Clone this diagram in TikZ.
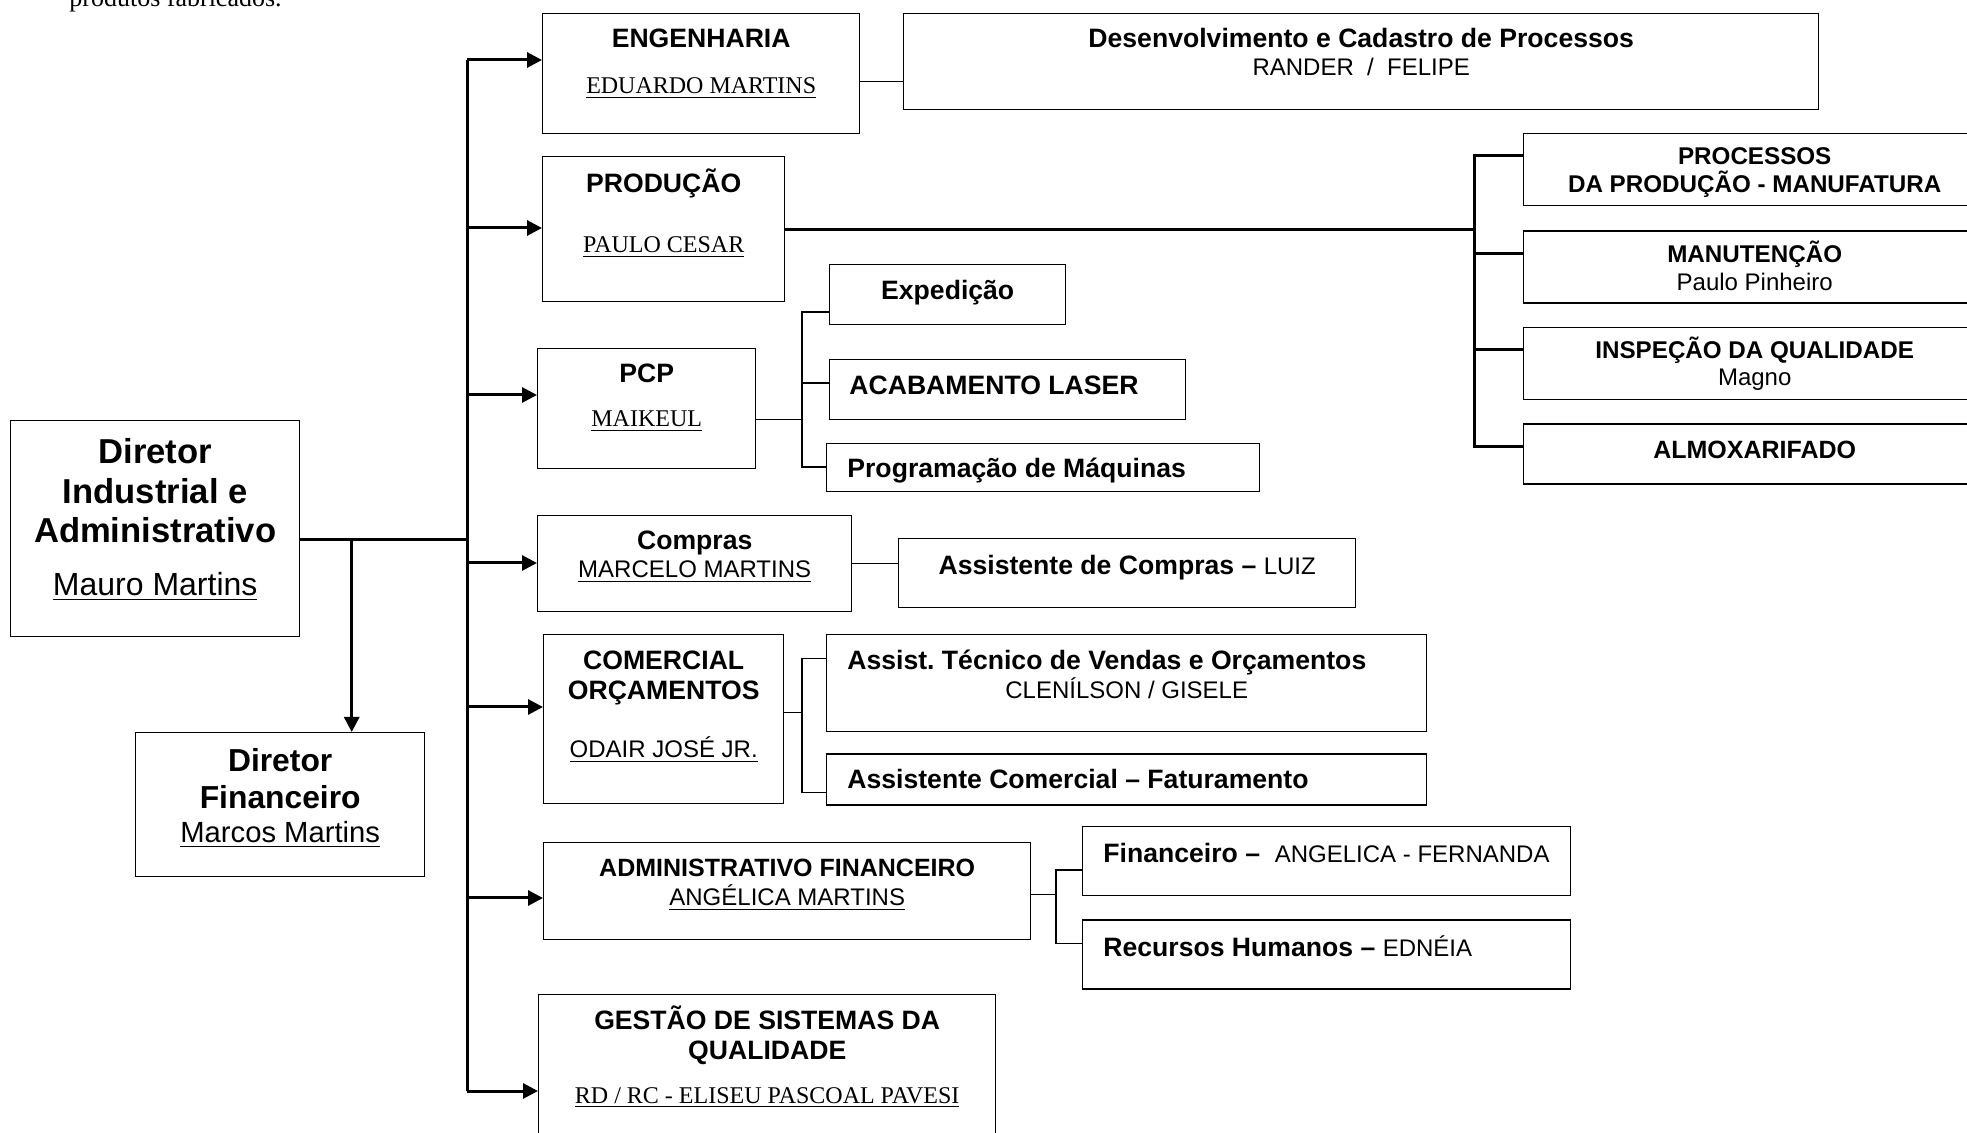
\documentclass[tikz,border=0pt]{standalone}
\usepackage{fontspec}
\setmainfont{Liberation Sans}
\newfontfamily\tnr{Liberation Serif}
\usetikzlibrary{arrows.meta,positioning}

\newcommand\bigfont{\fontsize{17.3}{19.75}\selectfont\bfseries}
\newcommand\midfont{\fontsize{15.9}{18.5}\selectfont\bfseries}
\newcommand\hdfont{\fontsize{13.3}{15}\selectfont\bfseries}
\newcommand\smfont{\fontsize{12.1}{14}\selectfont\bfseries}
\newcommand\nmfont{\fontsize{12}{14}\selectfont\mdseries}
\newcommand\tnfont{\tnr\fontsize{12}{14}\selectfont}

\tikzset{
  box/.style={draw, line width=0.7pt, anchor=north west, inner sep=0pt},
  lbl/.style={inner sep=0pt, align=center},
  heavy/.style={line width=1.5pt},
  arr/.style={heavy, -{Triangle[length=7.5pt,width=7.5pt]}},
  link/.style={line width=0.7pt},
}

\begin{document}
\begin{tikzpicture}[x=0.5pt,y=-0.5pt]
\useasboundingbox (0,0) rectangle (1967,1133);
\clip (0,0) rectangle (1967,1133);

\node[anchor=base west, inner sep=0pt, font=\tnr\fontsize{13}{15}\selectfont] (intro) at (69,7) {produtos fabricados.};

% directors
\node[box, minimum width=144.5pt, minimum height=108pt] (dirind) at (10,420) {};
\node[lbl, font=\bigfont, below=61.5pt of dirind.north, anchor=base] (dirindt) {Diretor\\Industrial e\\Administrativo};
\node[lbl, font=\fontsize{16}{18}\selectfont, below=88pt of dirind.north, anchor=base] (dirindn) {\underline{Mauro Martins}};

\node[box, minimum width=144.5pt, minimum height=72pt] (dirfin) at (135,732) {};
\node[lbl, font=\midfont, below=38.5pt of dirfin.north, anchor=base] (dirfint) {Diretor\\Financeiro};
\node[lbl, font=\fontsize{14.6}{17}\selectfont, below=55.5pt of dirfin.north, anchor=base] (dirfinn) {\underline{Marcos Martins}};

% engenharia
\node[box, minimum width=158.5pt, minimum height=60pt] (eng) at (542,13) {};
\node[lbl, font=\hdfont, below=17.5pt of eng.north, anchor=base] (engt) {ENGENHARIA};
\node[lbl, font=\tnfont, below=40.5pt of eng.north, anchor=base] (engn) {\underline{EDUARDO MARTINS}};

\node[box, minimum width=457.5pt, minimum height=48pt] (desenv) at (903,13) {};
\node[lbl, font=\hdfont, below=17.5pt of desenv.north, anchor=base] (desenvt) {Desenvolvimento e Cadastro de Processos};
\node[lbl, font=\nmfont, below=31.5pt of desenv.north, anchor=base] (desenvn) {RANDER \ / \ FELIPE};

% producao
\node[box, minimum width=121pt, minimum height=72.5pt] (prod) at (542,156) {};
\node[lbl, font=\hdfont, below=18.5pt of prod.north, anchor=base] (prodt) {PRODUÇÃO};
\node[lbl, font=\tnfont, below=48.5pt of prod.north, anchor=base] (prodn) {\underline{PAULO CESAR}};

\node[box, minimum width=231pt, minimum height=36pt] (proc) at (1523,133) {};
\node[box, minimum width=231pt, minimum height=36pt, below=12pt of proc] (manut) {};
\node[box, minimum width=231pt, minimum height=36pt, below=11.5pt of manut] (insp) {};
\node[box, minimum width=231pt, minimum height=30pt, below=11.5pt of insp] (almox) {};
\node[lbl, font=\smfont, below=30pt of proc.north, anchor=base] (proct) {PROCESSOS\\DA PRODUÇÃO - MANUFATURA};
\node[lbl, font=\smfont, below=16pt of manut.north, anchor=base] (manutt) {MANUTENÇÃO};
\node[lbl, font=\nmfont, below=30pt of manut.north, anchor=base] (manutn) {Paulo Pinheiro};
\node[lbl, font=\smfont, below=16pt of insp.north, anchor=base] (inspt) {INSPEÇÃO DA QUALIDADE};
\node[lbl, font=\nmfont, below=29.5pt of insp.north, anchor=base] (inspn) {Magno};
\node[lbl, font=\fontsize{12.5}{14}\selectfont\bfseries, below=17.5pt of almox.north, anchor=base] (almoxt) {ALMOXARIFADO};

% pcp
\node[box, minimum width=109pt, minimum height=60pt] (pcp) at (537,348) {};
\node[lbl, font=\hdfont, below=17.5pt of pcp.north, anchor=base] (pcpt) {PCP};
\node[lbl, font=\tnfont, below=39.5pt of pcp.north, anchor=base] (pcpn) {\underline{MAIKEUL}};

\node[box, minimum width=118pt, minimum height=30pt] (exped) at (829,264) {};
\node[lbl, font=\hdfont, below=18pt of exped.north, anchor=base] (expedt) {Expedição};
\node[box, minimum width=178pt, minimum height=30pt] (laser) at (829,359) {};
\node[lbl, font=\hdfont, below=18pt of laser.north west, anchor=base west, xshift=10pt] (lasert) {ACABAMENTO LASER};
\node[box, minimum width=216.5pt, minimum height=24pt] (progm) at (826,443) {};
\node[lbl, font=\hdfont, below=17.5pt of progm.north west, anchor=base west, xshift=10.5pt] (progmt) {Programação de Máquinas};

% compras
\node[box, minimum width=157pt, minimum height=48pt] (compras) at (537,515) {};
\node[lbl, font=\hdfont, below=17.5pt of compras.north, anchor=base] (comprast) {Compras};
\node[lbl, font=\nmfont, below=31.5pt of compras.north, anchor=base] (comprasn) {\underline{MARCELO MARTINS}};
\node[box, minimum width=228.5pt, minimum height=34.5pt] (asscomp) at (898,538) {};
\node[lbl, font=\hdfont, below=18.5pt of asscomp.north, anchor=base] (asscompt) {Assistente de Compras – {\nmfont LUIZ}};

% comercial
\node[box, minimum width=120pt, minimum height=84.5pt] (comerc) at (543,634) {};
\node[lbl, font=\hdfont, below=33pt of comerc.north, anchor=base] (comerct) {COMERCIAL\\ORÇAMENTOS};
\node[lbl, font=\nmfont, below=62pt of comerc.north, anchor=base] (comercn) {\underline{ODAIR JOSÉ JR.}};
\node[box, minimum width=300pt, minimum height=48.5pt] (asstec) at (826,634) {};
\node[lbl, font=\hdfont, below=18pt of asstec.north west, anchor=base west, xshift=10.5pt] (asstect) {Assist.\ Técnico de Vendas e Orçamentos};
\node[lbl, font=\nmfont, below=32.5pt of asstec.north, anchor=base] (asstecn) {CLENÍLSON / GISELE};
\node[box, minimum width=300pt, minimum height=25.5pt, below=10.5pt of asstec] (asscom) {};
\node[lbl, font=\hdfont, below=17.5pt of asscom.north west, anchor=base west, xshift=10.5pt] (asscomt) {Assistente Comercial – Faturamento};

% administrativo
\node[box, minimum width=243.5pt, minimum height=48.5pt] (admfin) at (543,842) {};
\node[lbl, font=\fontsize{12.5}{14}\selectfont\bfseries, below=17.5pt of admfin.north, anchor=base] (admfint) {ADMINISTRATIVO FINANCEIRO};
\node[lbl, font=\nmfont, below=32pt of admfin.north, anchor=base] (admfinn) {\underline{ANGÉLICA MARTINS}};
\node[box, minimum width=244pt, minimum height=34.5pt] (finan) at (1082,826) {};
\node[lbl, font=\hdfont, below=18.5pt of finan.north west, anchor=base west, xshift=10.5pt] (finant) {Financeiro –\ \ {\nmfont ANGELICA - FERNANDA}};
\node[box, minimum width=244pt, minimum height=34.5pt, below=11.5pt of finan] (rh) {};
\node[lbl, font=\hdfont, below=18.5pt of rh.north west, anchor=base west, xshift=10.5pt] (rht) {Recursos Humanos – {\nmfont EDNÉIA}};

% qualidade
\node[box, minimum width=228.5pt, minimum height=90pt] (gestao) at (538,994) {};
\node[lbl, font=\hdfont, below=32.5pt of gestao.north, anchor=base] (gestaot) {GESTÃO DE SISTEMAS DA\\QUALIDADE};
\node[lbl, font=\tnfont, below=54.5pt of gestao.north, anchor=base] (gestaon) {\underline{RD / RC - ELISEU PASCOAL PAVESI}};

% main bus with arrows
\coordinate (bus) at (467,60);
\coordinate (busend) at (467,1091);
\draw[heavy] (bus) -- (busend);
\foreach \b/\d in {eng/23.5pt, prod/36pt, pcp/23.5pt, compras/24pt, comerc/36.5pt, admfin/28pt, gestao/48.5pt}{
  \coordinate (\b-in) at ([yshift=-\d]\b.north west);
  \draw[arr] (bus |- \b-in) -- (\b-in);
}

\coordinate (dirout) at ([yshift=-5.5pt]dirind.east);
\draw[heavy] (dirout) -- (bus |- dirout);
\coordinate (finin) at ([xshift=35.75pt]dirfin.north);
\draw[arr] (finin |- dirout) -- (finin);

% side links
\coordinate (engout) at ([yshift=-4pt]eng.east);
\draw[link] (engout) -- (engout -| desenv.west);

\coordinate (rbus) at (1474,228);
\draw[heavy] (prod.east) -- (rbus |- prod.east);
\foreach \b in {proc,manut,insp,almox}
  \coordinate (\b-in) at ([yshift=-11.5pt]\b.north west);
\draw[heavy] (proc-in) -| (rbus |- almox-in) -- (almox-in);
\draw[heavy] (rbus |- manut-in) -- (manut-in);
\draw[heavy] (rbus |- insp-in) -- (insp-in);

\coordinate (pcpj) at (802,419);
\coordinate (pcpout) at ([yshift=-5.5pt]pcp.east);
\coordinate (exped-in) at ([yshift=-24pt]exped.north west);
\coordinate (laser-in) at ([yshift=-12pt]laser.north west);
\coordinate (progm-in) at ([yshift=-12pt]progm.north west);
\draw[link] (pcpout) -- (pcpj |- pcpout);
\draw[link] (exped-in) -| (pcpj |- progm-in) -- (progm-in);
\draw[link] (pcpj |- laser-in) -- (laser-in);

\draw[link] (compras.east) -- (compras.east -| asscomp.west);

\coordinate (comj) at (802,712);
\coordinate (comout) at ([yshift=3.25pt]comerc.east);
\coordinate (asstec-in) at ([yshift=-12.25pt]asstec.north west);
\coordinate (asscom-in) at ([yshift=-19.5pt]asscom.north west);
\draw[link] (comout) -- (comj |- comout);
\draw[link] (asstec-in) -| (comj |- asscom-in) -- (asscom-in);

\coordinate (admj) at (1056,894);
\coordinate (admout) at ([yshift=-1.75pt]admfin.east);
\coordinate (finan-in) at ([yshift=-22pt]finan.north west);
\coordinate (rh-in) at ([yshift=-12pt]rh.north west);
\draw[link] (admout) -- (admj |- admout);
\draw[link] (finan-in) -| (admj |- rh-in) -- (rh-in);

\end{tikzpicture}
\end{document}
